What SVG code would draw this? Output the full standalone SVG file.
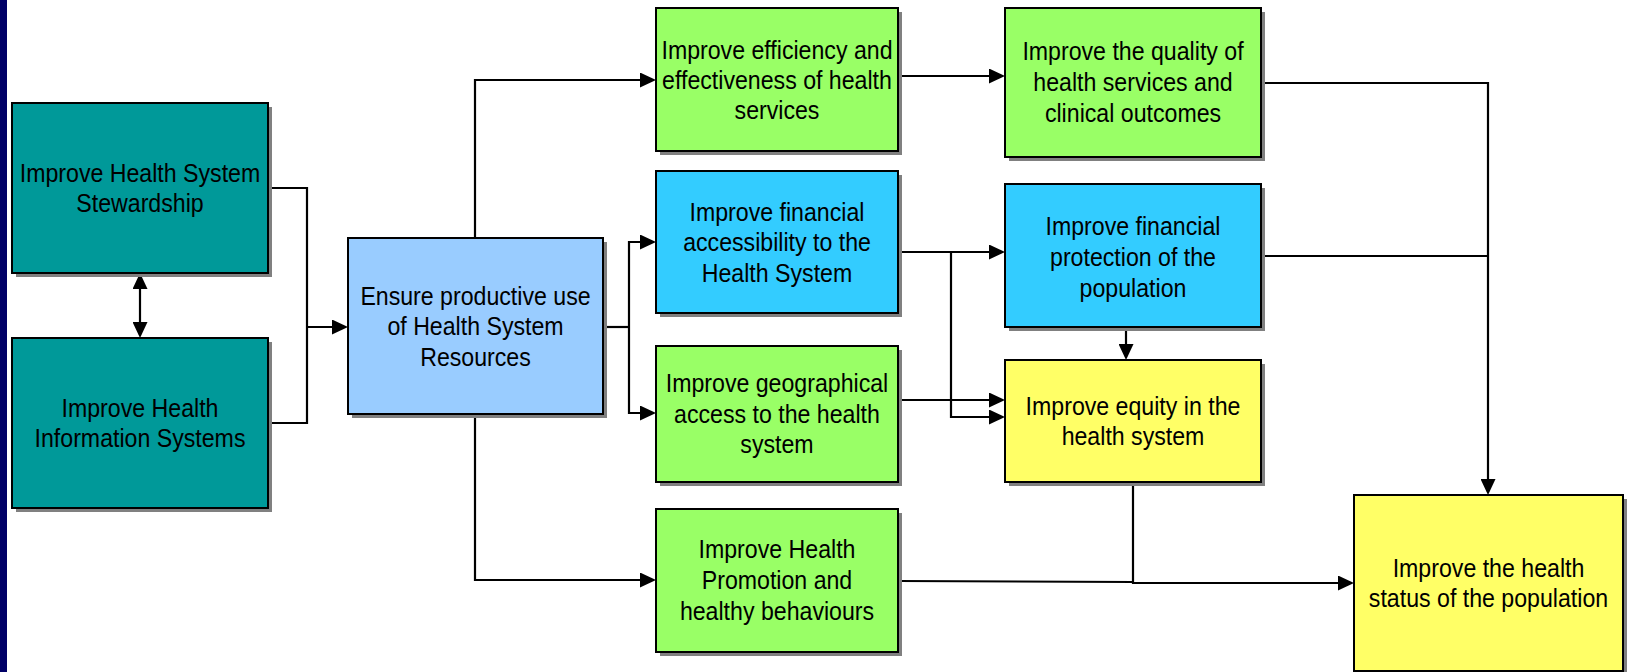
<svg xmlns="http://www.w3.org/2000/svg" width="1633" height="672" viewBox="0 0 1633 672">
<style>
.sh{fill:#808080}
.bx{stroke:#000;stroke-width:2}
.teal{fill:#009999}
.lb{fill:#99CCFF}
.gr{fill:#99FF66}
.cy{fill:#33CCFF}
.ye{fill:#FFFF66}
text{font-family:"Liberation Sans",Arial,sans-serif;font-size:26px;fill:#000;text-anchor:middle}
.c{fill:none;stroke:#000;stroke-width:2.2}
.a{marker-end:url(#ah)}
</style>
<defs>
<marker id="ah" markerUnits="userSpaceOnUse" markerWidth="16" markerHeight="15" refX="13" refY="7.5" orient="auto-start-reverse">
<path d="M0,0 L16,7.5 L0,15 Z" fill="#000"/>
</marker>
</defs>
<rect x="0" y="0" width="1633" height="672" fill="#fff"/>
<rect x="0" y="0" width="7" height="672" fill="#000066"/>

<g id="connectors">
<path class="c" d="M268,188 H307 V423 H268"/>
<path class="c a" d="M307,327 H345"/>
<path class="c a" d="M140,276 V335" marker-start="url(#ah)"/>
<path class="c a" d="M475,238 V80 H653"/>
<path class="c a" d="M475,414 V580 H653"/>
<path class="c" d="M603,327 H629"/>
<path class="c a" d="M629,327 V242 H653"/>
<path class="c a" d="M629,327 V413 H653"/>
<path class="c a" d="M898,76 H1002"/>
<path class="c a" d="M898,252 H1002"/>
<path class="c a" d="M951,252 V417 H1002"/>
<path class="c a" d="M898,400 H1002"/>
<path class="c a" d="M1261,83 H1488 V492"/>
<path class="c" d="M1261,256 H1488"/>
<path class="c a" d="M1126,327 V357"/>
<path class="c" d="M898,581 L1133,582"/>
<path class="c a" d="M1133,482 V583 H1351"/>
</g>

<g id="n-stewardship">
<rect class="sh" x="16" y="107" width="256" height="170"/>
<rect class="bx teal" x="12" y="103" width="256" height="170"/>
<text transform="translate(140 0) scale(0.89 1)"><tspan x="0" y="182">Improve Health System</tspan><tspan x="0" y="212">Stewardship</tspan></text>
</g>

<g id="n-his">
<rect class="sh" x="16" y="342" width="256" height="170"/>
<rect class="bx teal" x="12" y="338" width="256" height="170"/>
<text transform="translate(140 0) scale(0.89 1)"><tspan x="0" y="417">Improve Health</tspan><tspan x="0" y="447">Information Systems</tspan></text>
</g>

<g id="n-resources">
<rect class="sh" x="352" y="242" width="255" height="176"/>
<rect class="bx lb" x="348" y="238" width="255" height="176"/>
<text transform="translate(475.5 0) scale(0.89 1)"><tspan x="0" y="305">Ensure productive use</tspan><tspan x="0" y="335">of Health System</tspan><tspan x="0" y="366">Resources</tspan></text>
</g>

<g id="n-efficiency">
<rect class="sh" x="660" y="12" width="242" height="143"/>
<rect class="bx gr" x="656" y="8" width="242" height="143"/>
<text transform="translate(777 0) scale(0.89 1)"><tspan x="0" y="59">Improve efficiency and</tspan><tspan x="0" y="89">effectiveness of health</tspan><tspan x="0" y="119">services</tspan></text>
</g>

<g id="n-finaccess">
<rect class="sh" x="660" y="175" width="242" height="142"/>
<rect class="bx cy" x="656" y="171" width="242" height="142"/>
<text transform="translate(777 0) scale(0.89 1)"><tspan x="0" y="221">Improve financial</tspan><tspan x="0" y="251">accessibility to the</tspan><tspan x="0" y="282">Health System</tspan></text>
</g>

<g id="n-geo">
<rect class="sh" x="660" y="350" width="242" height="136"/>
<rect class="bx gr" x="656" y="346" width="242" height="136"/>
<text transform="translate(777 0) scale(0.89 1)"><tspan x="0" y="392">Improve geographical</tspan><tspan x="0" y="423">access to the health</tspan><tspan x="0" y="453">system</tspan></text>
</g>

<g id="n-promotion">
<rect class="sh" x="660" y="513" width="242" height="143"/>
<rect class="bx gr" x="656" y="509" width="242" height="143"/>
<text transform="translate(777 0) scale(0.89 1)"><tspan x="0" y="558">Improve Health</tspan><tspan x="0" y="589">Promotion and</tspan><tspan x="0" y="620">healthy behaviours</tspan></text>
</g>

<g id="n-quality">
<rect class="sh" x="1009" y="12" width="256" height="149"/>
<rect class="bx gr" x="1005" y="8" width="256" height="149"/>
<text transform="translate(1133 0) scale(0.89 1)"><tspan x="0" y="60">Improve the quality of</tspan><tspan x="0" y="91">health services and</tspan><tspan x="0" y="122">clinical outcomes</tspan></text>
</g>

<g id="n-finprotection">
<rect class="sh" x="1009" y="188" width="256" height="143"/>
<rect class="bx cy" x="1005" y="184" width="256" height="143"/>
<text transform="translate(1133 0) scale(0.89 1)"><tspan x="0" y="235">Improve financial</tspan><tspan x="0" y="266">protection of the</tspan><tspan x="0" y="297">population</tspan></text>
</g>

<g id="n-equity">
<rect class="sh" x="1009" y="364" width="256" height="122"/>
<rect class="bx ye" x="1005" y="360" width="256" height="122"/>
<text transform="translate(1133 0) scale(0.89 1)"><tspan x="0" y="415">Improve equity in the</tspan><tspan x="0" y="445">health system</tspan></text>
</g>

<g id="n-healthstatus">
<rect class="sh" x="1358" y="499" width="269" height="180"/>
<rect class="bx ye" x="1354" y="495" width="269" height="176"/>
<text transform="translate(1488.5 0) scale(0.89 1)"><tspan x="0" y="577">Improve the health</tspan><tspan x="0" y="607">status of the population</tspan></text>
</g>
</svg>
